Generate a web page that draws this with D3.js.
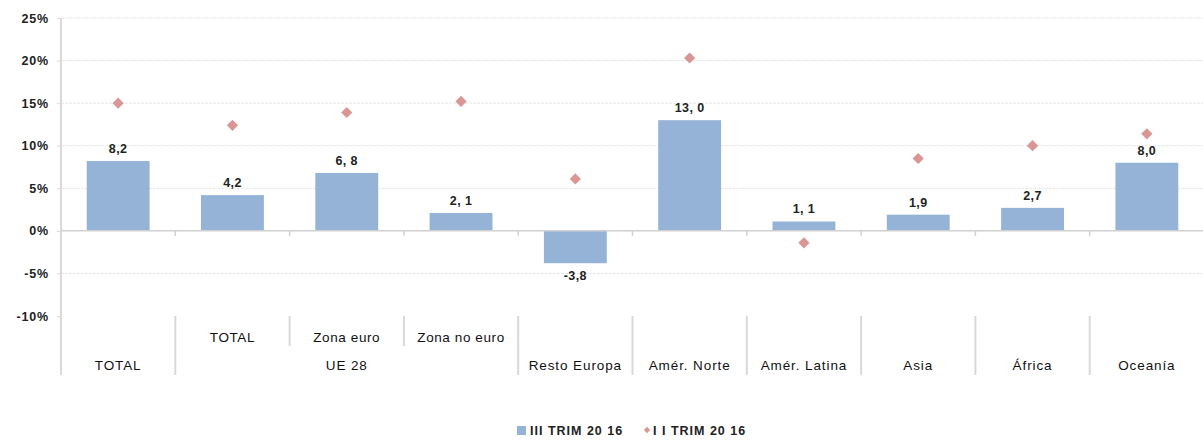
<!DOCTYPE html>
<html>
<head>
<meta charset="utf-8">
<script src="https://cdn.jsdelivr.net/npm/d3@7"></script>
<style>
  body { margin: 0; background: #fff; }
  text { font-family: "Liberation Sans", Arial, sans-serif; }
</style>
</head>
<body>
<div id="chart-area"></div>
<script>
// categories (second level row) and their group (first level row)
const categories = ['TOTAL', 'TOTAL', 'Zona euro', 'Zona no euro', 'Resto Europa', 'Amér. Norte', 'Amér. Latina', 'Asia', 'África', 'Oceanía']
const groups = ['TOTAL', 'UE 28', 'UE 28', 'UE 28', 'Resto Europa', 'Amér. Norte', 'Amér. Latina', 'Asia', 'África', 'Oceanía']
const subLabels = ['', 'TOTAL', 'Zona euro', 'Zona no euro', '', '', '', '', '', '']
const trim3 = [8.2, 4.2, 6.8, 2.1, -3.8, 13.0, 1.1, 1.9, 2.7, 8.0]
const trim2 = [15.0, 12.4, 13.9, 15.2, 6.1, 20.3, -1.4, 8.5, 10.0, 11.4]
const barLabels = ['8,2', '4,2', '6, 8', '2, 1', '-3,8', '13, 0', '1, 1', '1,9', '2,7', '8,0']
const yTicks = [25, 20, 15, 10, 5, 0, -5, -10]
const seriesNames = ['III TRIM 20 16', 'I I TRIM 20 16']

const width = 1203
const height = 441
const margin = { left: 61, right: 0, top: 18, bottom: 124 }
const plotW = width - margin.left - margin.right
const plotH = height - margin.top - margin.bottom

const svg = d3.select('#chart-area')
  .append('svg')
    .attr('width', width)
    .attr('height', height)

const g = svg.append('g')
  .attr('transform', `translate(${margin.left}, ${margin.top})`)

const idx = d3.range(categories.length)

const x = d3.scaleBand()
  .domain(idx)
  .range([0, 1143])
  .paddingInner(0.45)
  .paddingOuter(0.225)

const y = d3.scaleLinear()
  .domain([-10, 25])
  .range([plotH - 1, 0])

const step = x.step()
const left = i => x(i) - x.paddingInner() * step / 2

// gridlines
g.append('g')
  .selectAll('line')
  .data(yTicks.filter(t => t !== 0 && t !== -10))
  .enter()
  .append('line')
    .attr('x1', 0)
    .attr('x2', plotW)
    .attr('y1', d => y(d))
    .attr('y2', d => y(d))
    .attr('stroke', '#e6e6e6')
    .attr('stroke-dasharray', '3,1')

// y axis
const yAxisCall = d3.axisLeft(y)
  .tickValues(yTicks)
  .tickFormat(d => `${d}%`)
  .tickSize(4)
const yAxis = g.append('g').call(yAxisCall)
yAxis.select('.domain').remove()
yAxis.selectAll('line').attr('stroke', '#d9d9d9')
yAxis.selectAll('text')
  .attr('x', -12)
  .attr('font-size', 12.5)
  .attr('font-weight', 'bold')
  .attr('letter-spacing', 0.8)
  .attr('fill', '#222')

g.append('line')
  .attr('x1', 0)
  .attr('x2', 0)
  .attr('y1', 0)
  .attr('y2', 357)
  .attr('stroke', '#d9d9d9')
  .attr('stroke-width', 2)

// bars
g.selectAll('rect.bar').data(idx).enter()
  .append('rect')
    .attr('class', 'bar')
    .attr('x', i => x(i))
    .attr('y', i => y(Math.max(0, trim3[i])))
    .attr('width', x.bandwidth())
    .attr('height', i => Math.abs(y(trim3[i]) - y(0)))
    .attr('fill', '#95b3d7')

// zero line and ticks
g.append('line')
  .attr('x1', 0)
  .attr('x2', plotW)
  .attr('y1', y(0))
  .attr('y2', y(0))
  .attr('stroke', '#d0d0d0')
  .attr('stroke-width', 1.5)

g.selectAll('line.zt').data(idx.slice(1)).enter()
  .append('line')
    .attr('class', 'zt')
    .attr('x1', i => left(i))
    .attr('x2', i => left(i))
    .attr('y1', y(0))
    .attr('y2', y(0) + 5)
    .attr('stroke', '#d0d0d0')
    .attr('stroke-width', 1.5)

// bar labels
g.selectAll('text.val').data(idx).enter()
  .append('text')
    .attr('class', 'val')
    .attr('x', i => x(i) + x.bandwidth() / 2)
    .attr('y', i => trim3[i] >= 0 ? y(trim3[i]) - 8 : y(trim3[i]) + 17)
    .attr('text-anchor', 'middle')
    .attr('font-size', 12.5)
    .attr('font-weight', 'bold')
    .attr('letter-spacing', 0.4)
    .attr('fill', '#222')
    .text(i => barLabels[i])

// diamonds
const diamond = d3.symbol().type(d3.symbolDiamond2).size(80)
g.selectAll('path.pt').data(idx).enter()
  .append('path')
    .attr('class', 'pt')
    .attr('d', diamond)
    .attr('transform', i => `translate(${x(i) + x.bandwidth() / 2}, ${y(trim2[i])})`)
    .attr('fill', '#d99694')

// category separators
const sepTop = y(-10)
idx.slice(1).forEach(i => {
  const full = groups[i] !== groups[i - 1]
  g.append('line')
    .attr('x1', left(i))
    .attr('x2', left(i))
    .attr('y1', sepTop)
    .attr('y2', full ? 357 : 328)
    .attr('stroke', '#d9d9d9')
    .attr('stroke-width', 2)
})

// sub labels (first row)
g.selectAll('text.sub').data(idx.filter(i => subLabels[i])).enter()
  .append('text')
    .attr('class', 'sub')
    .attr('x', i => x(i) + x.bandwidth() / 2)
    .attr('y', 324)
    .attr('text-anchor', 'middle')
    .attr('font-size', 13.5)
    .attr('letter-spacing', 0.6)
    .attr('fill', '#111')
    .text(i => subLabels[i])

// group labels (second row)
const groupNames = Array.from(new Set(groups))
g.selectAll('text.grp').data(groupNames).enter()
  .append('text')
    .attr('class', 'grp')
    .attr('x', name => {
      const members = idx.filter(i => groups[i] === name)
      const a = left(members[0])
      const b = left(members[members.length - 1]) + step
      return (a + b) / 2
    })
    .attr('y', 352)
    .attr('text-anchor', 'middle')
    .attr('font-size', 13.5)
    .attr('letter-spacing', 0.9)
    .attr('fill', '#111')
    .text(d => d)

// legend
const legend = svg.append('g')
  .attr('transform', 'translate(517, 430)')

legend.append('rect')
  .attr('x', 0)
  .attr('y', -4)
  .attr('width', 9)
  .attr('height', 9)
  .attr('fill', '#95b3d7')
legend.append('text')
  .attr('x', 13)
  .attr('y', 5)
  .attr('font-size', 12.5)
  .attr('font-weight', 'bold')
  .attr('letter-spacing', 1)
  .attr('fill', '#222')
  .text(seriesNames[0])

legend.append('path')
  .attr('d', d3.symbol().type(d3.symbolDiamond2).size(25))
  .attr('transform', 'translate(130, 0)')
  .attr('fill', '#d99694')
legend.append('text')
  .attr('x', 136)
  .attr('y', 5)
  .attr('font-size', 12.5)
  .attr('font-weight', 'bold')
  .attr('letter-spacing', 1)
  .attr('fill', '#222')
  .text(seriesNames[1])
</script>
</body>
</html>
